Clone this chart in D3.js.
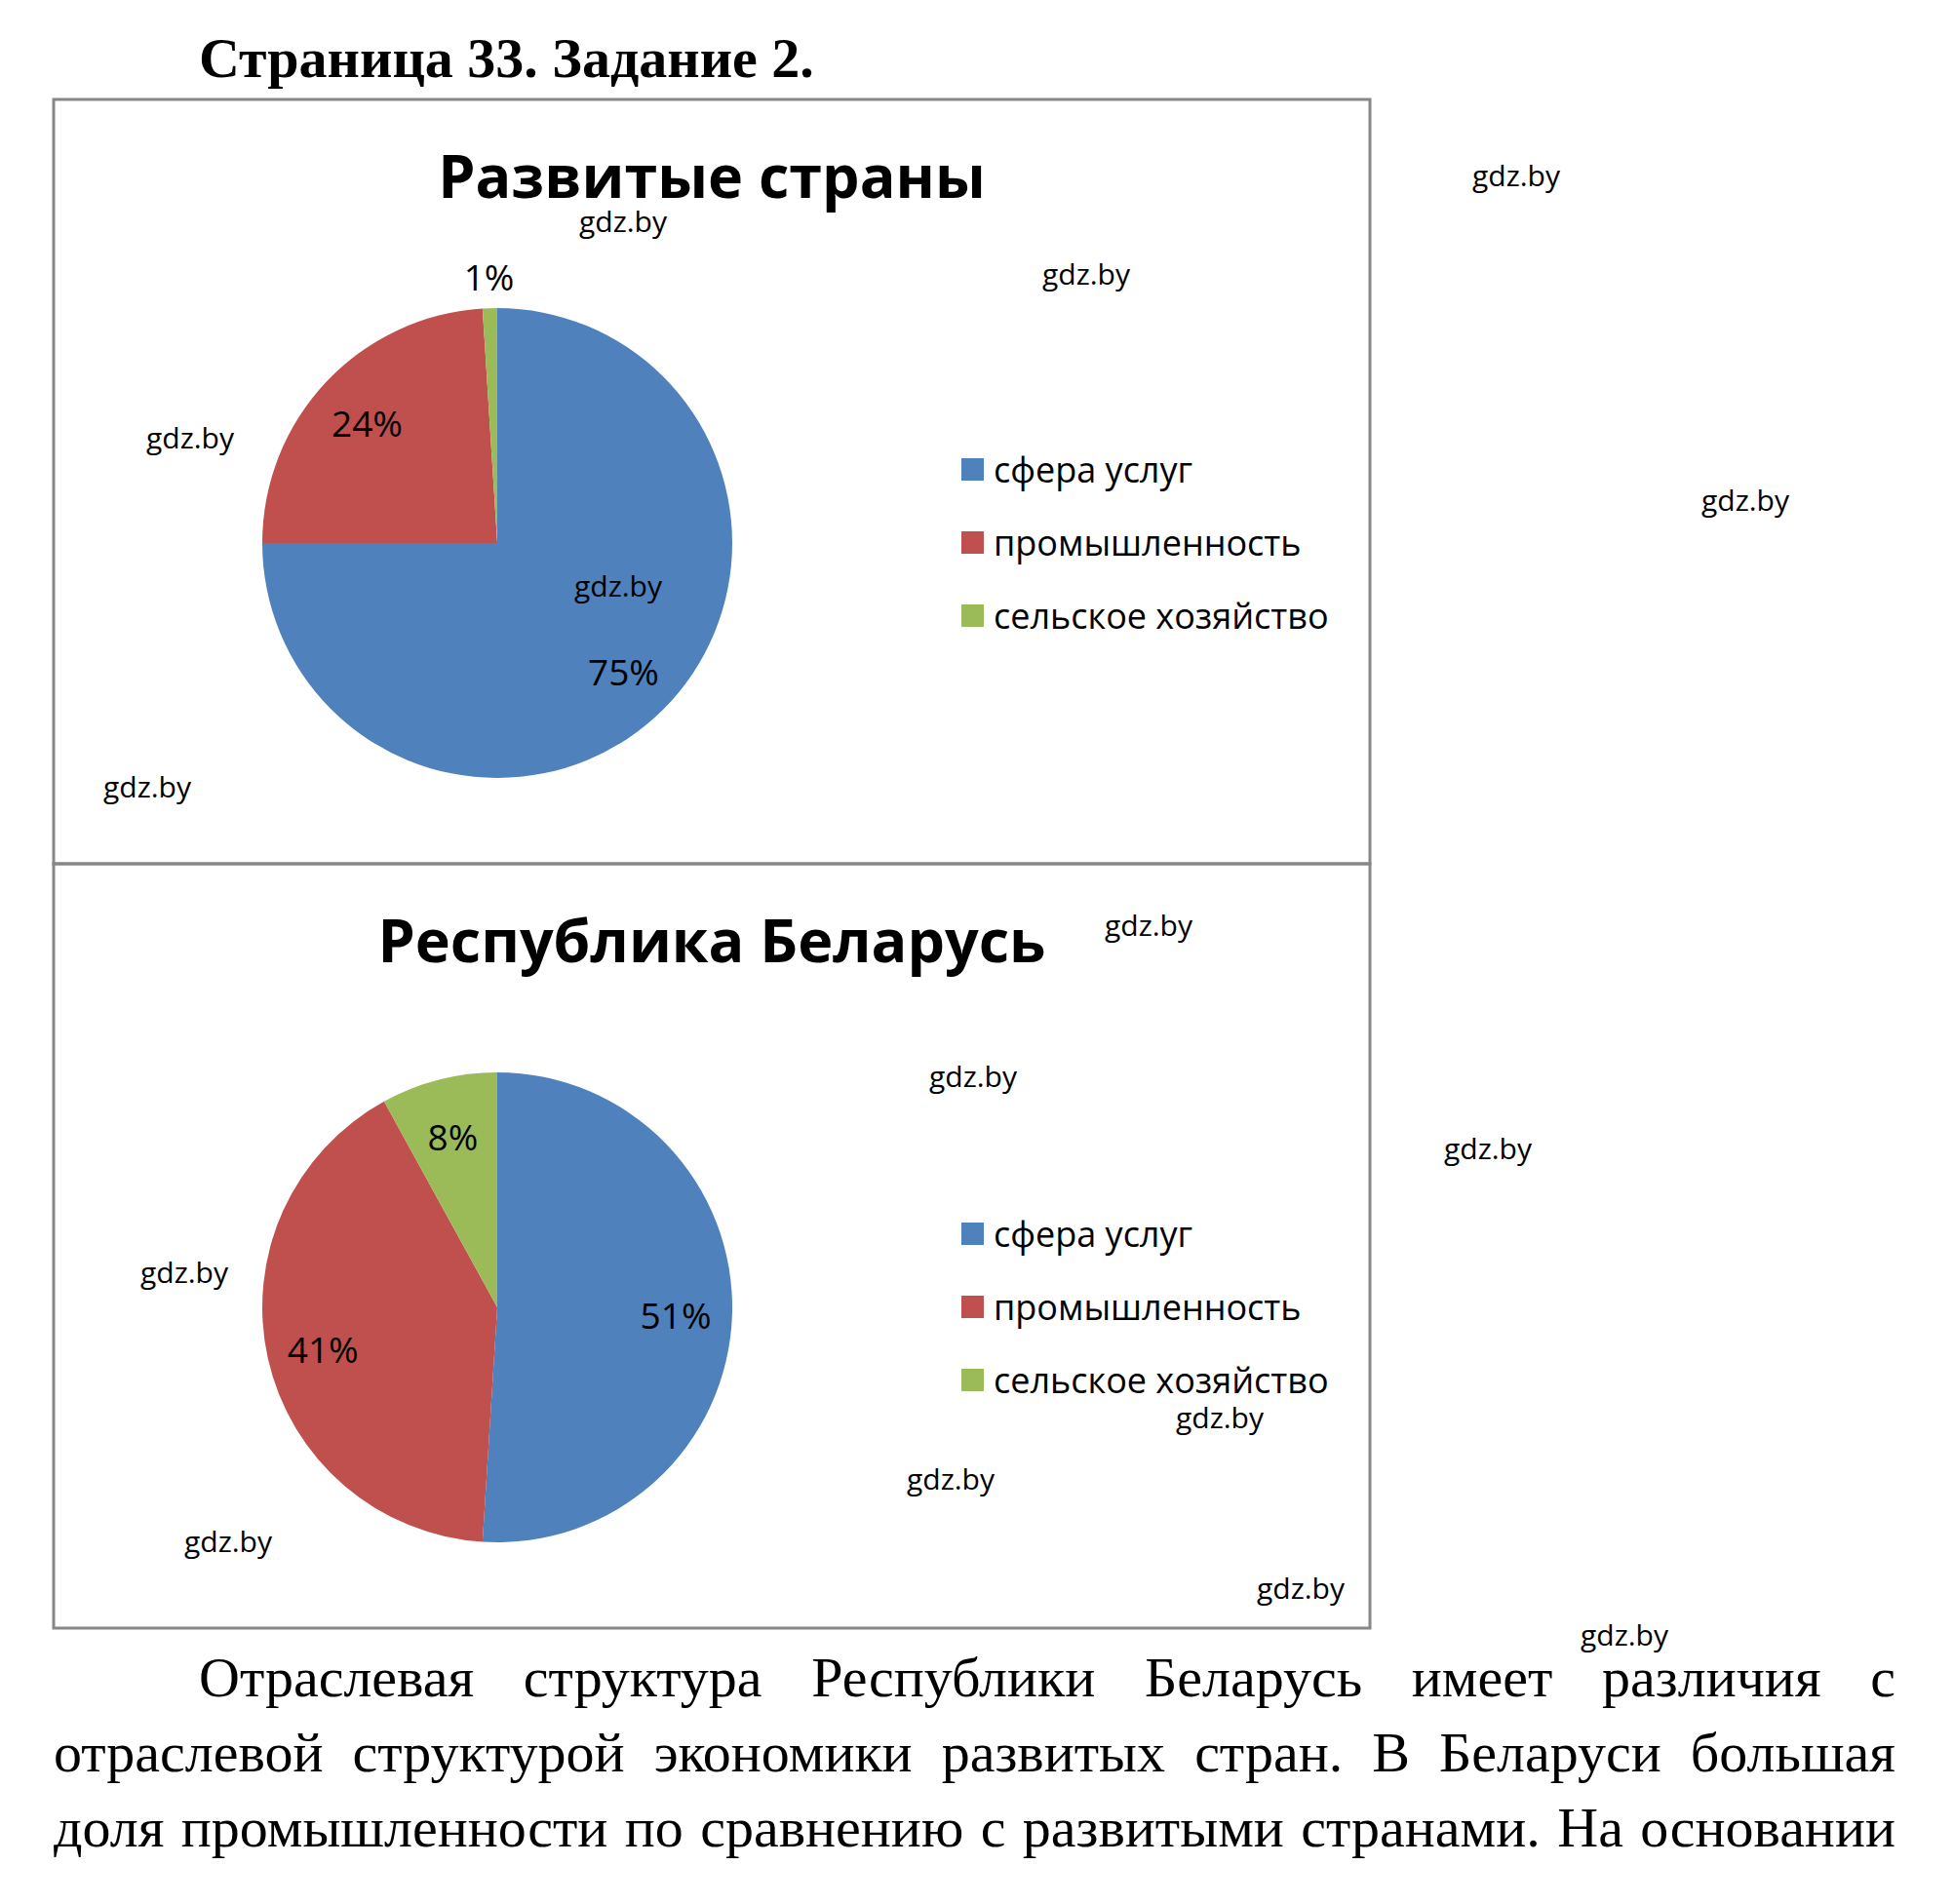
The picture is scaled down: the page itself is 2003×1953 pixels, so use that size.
<!DOCTYPE html>
<html lang="ru">
<head>
<meta charset="UTF-8">
<title>Страница 33. Задание 2.</title>
<script src="https://cdnjs.cloudflare.com/ajax/libs/d3/7.8.5/d3.min.js"></script>
<style>
  body { margin: 0; background: #fff; }
  svg text { font-family: "Open Sans", sans-serif; fill: #000; }
</style>
</head>
<body>
<script>
  // data
  const categories = ['сфера услуг', 'промышленность', 'сельское хозяйство'];
  const chartTitles = ['Развитые страны', 'Республика Беларусь'];
  const developedValues = [75, 24, 1];
  const belarusValues = [51, 41, 8];
  const colors = ['#4F81BD', '#C0504D', '#9BBB59'];

  const pageTitle = 'Страница 33. Задание 2.';
  const paragraphLines = [
    'Отраслевая структура Республики Беларусь имеет различия с',
    'отраслевой структурой экономики развитых стран. В Беларуси большая',
    'доля промышленности по сравнению с развитыми странами. На основании'
  ];

  // watermark spots (left, baseline)
  const marks = [
    [594, 238], [1069, 292], [1510, 191], [150, 460], [589, 612], [1745, 524], [106, 818],
    [1133, 960], [953, 1115], [1481, 1189], [144, 1316], [1206, 1465], [930, 1528],
    [189, 1592], [1289, 1640], [1621, 1688]
  ];

  const w = 2003;
  const h = 1953;

  const svg = d3.select('body')
    .append('svg')
    .attr('width', w)
    .attr('height', h);

  svg.append('rect')
    .attr('width', w)
    .attr('height', h)
    .attr('fill', '#fff');

  svg.append('text')
    .attr('x', 204)
    .attr('y', 79)
    .style('font-family', '"Liberation Serif", "Times New Roman", serif')
    .style('font-weight', 'bold')
    .style('font-size', '58px')
    .text(pageTitle);

  const boxX = 55;
  const boxW = 1350;
  const boxH = 784;
  const radius = 241;

  const panels = [
    { title: chartTitles[0], values: developedValues, top: 102 },
    { title: chartTitles[1], values: belarusValues, top: 886 }
  ];

  const pie = d3.pie().sort(null).value(d => d);
  const arc = d3.arc().innerRadius(0).outerRadius(radius);
  const inLabel = d3.arc().innerRadius(radius * 0.76).outerRadius(radius * 0.76);
  const outLabel = d3.arc().innerRadius(radius * 1.12).outerRadius(radius * 1.12);

  const legendY = d3.scalePoint()
    .domain(categories)
    .range([-75, 75]);

  panels.forEach(p => {
    const g = svg.append('g').attr('transform', `translate(${boxX}, ${p.top})`);

    g.append('rect')
      .attr('width', boxW)
      .attr('height', boxH)
      .attr('fill', 'none')
      .attr('stroke', '#878787')
      .attr('stroke-width', 3);

    g.append('text')
      .attr('x', boxW / 2)
      .attr('y', 101)
      .attr('text-anchor', 'middle')
      .style('font-weight', 'bold')
      .style('font-size', '61px')
      .text(p.title);

    const pg = g.append('g').attr('transform', `translate(${510 - boxX}, 455)`);
    const arcs = pie(p.values);

    pg.selectAll('path')
      .data(arcs)
      .enter()
      .append('path')
      .attr('d', arc)
      .attr('fill', (d, i) => colors[i]);

    // small slices get their label outside the pie
    pg.selectAll('text')
      .data(arcs)
      .enter()
      .append('text')
      .attr('transform', d => `translate(${(d.data < 3 ? outLabel : inLabel).centroid(d)})`)
      .attr('text-anchor', 'middle')
      .attr('dy', d => d.data < 3 ? '0.3em' : '0.45em')
      .style('font-size', '37px')
      .text(d => d.data + '%');

    const lg = g.append('g').attr('transform', `translate(${986 - boxX}, 455)`);
    const item = lg.selectAll('g')
      .data(categories)
      .enter()
      .append('g')
      .attr('transform', d => `translate(0, ${legendY(d)})`);

    item.append('rect')
      .attr('y', -12)
      .attr('width', 23)
      .attr('height', 23)
      .attr('fill', (d, i) => colors[i]);

    item.append('text')
      .attr('x', 33)
      .attr('dy', '0.36em')
      .style('font-size', '36px')
      .text(d => d);
  });

  // justified paragraph
  const paraRight = 1944;
  paragraphLines.forEach((line, li) => {
    const left = li === 0 ? 204 : 55;
    const y = 1740 + li * 77;
    const words = line.split(' ');
    const nodes = words.map(word => svg.append('text')
      .attr('y', y)
      .style('font-family', '"Liberation Serif", "Times New Roman", serif')
      .style('font-size', '58px')
      .text(word));
    const widths = nodes.map(n => n.node().getComputedTextLength());
    const gap = (paraRight - left - d3.sum(widths)) / (words.length - 1);
    let x = left;
    nodes.forEach((n, i) => {
      n.attr('x', x);
      x += widths[i] + gap;
    });
  });

  svg.selectAll('text.mark')
    .data(marks)
    .enter()
    .append('text')
    .attr('class', 'mark')
    .attr('x', d => d[0])
    .attr('y', d => d[1])
    .style('font-size', '30px')
    .text('gdz.by');
</script>
</body>
</html>
